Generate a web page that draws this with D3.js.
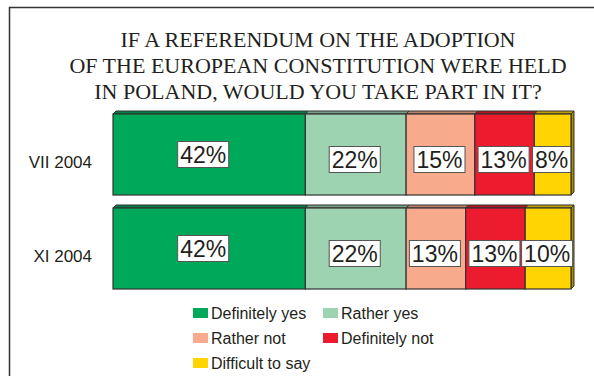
<!DOCTYPE html>
<html>
<head>
<meta charset="utf-8">
<script src="https://cdn.jsdelivr.net/npm/d3@7"></script>
<style>
  body { margin: 0; background: #fff; }
  svg { display: block; }
</style>
</head>
<body>
<div id="chart"></div>
<script>
var categories = ["VII 2004", "XI 2004"];
var seriesNames = ["Definitely yes", "Rather yes", "Rather not", "Definitely not", "Difficult to say"];
var values = [
  [42, 22, 15, 13, 8],
  [42, 22, 13, 13, 10]
];
var titleLines = [
  "IF A REFERENDUM ON THE ADOPTION",
  "OF THE EUROPEAN CONSTITUTION WERE HELD",
  "IN POLAND, WOULD YOU TAKE PART IN IT?"
];

var colors = ["#00a859", "#9dd3b0", "#f8aa8d", "#ec1c2e", "#ffd400"];
var W = 594, H = 376, depth = 3;

var svg = d3.select("#chart").append("svg").attr("width", W).attr("height", H);

// frame
svg.append("rect").attr("x", 9.5).attr("y", 7.5).attr("width", 620).attr("height", 400)
  .attr("fill", "none").attr("stroke", "#333").attr("stroke-width", 1.5);

// title
svg.append("g").selectAll("text").data(titleLines).enter().append("text")
  .attr("x", 318).attr("y", function(d, i) { return 47 + i * 26; })
  .attr("text-anchor", "middle")
  .style("font-family", "'Liberation Serif', 'Times New Roman', serif")
  .style("font-size", "22px").attr("fill", "#231f20")
  .text(function(d) { return d; });

var x = d3.scaleLinear().domain([0, 100]).range([113, 571]);
var y = d3.scaleBand().domain(categories).range([114, 289]).paddingInner(0.138).paddingOuter(0);

// stacked rows
var rows = categories.map(function(c, i) {
  var acc = 0;
  return values[i].map(function(v, k) {
    var s = { cat: c, k: k, v: v, x0: acc, x1: acc + v };
    acc += v;
    return s;
  });
});

var g = svg.append("g");
rows.forEach(function(row) {
  var bg = g.append("g");
  var top = y(row[0].cat), bh = y.bandwidth();
  // top faces
  bg.selectAll("path.top").data(row).enter().append("path")
    .attr("d", function(d) {
      var a = x(d.x0), b = x(d.x1);
      return "M" + a + "," + top + "L" + (a + depth) + "," + (top - depth) +
        "L" + (b + depth) + "," + (top - depth) + "L" + b + "," + top + "Z";
    })
    .attr("fill", function(d) { return d3.color(colors[d.k]).darker(0.8); })
    .attr("stroke", "#333").attr("stroke-width", 1);
  // side face of last segment
  var last = row[row.length - 1];
  var r = x(last.x1);
  bg.append("path")
    .attr("d", "M" + r + "," + top + "L" + (r + depth) + "," + (top - depth) +
      "L" + (r + depth) + "," + (top + bh - depth) + "L" + r + "," + (top + bh) + "Z")
    .attr("fill", d3.color(colors[last.k]).darker(1.2))
    .attr("stroke", "#333").attr("stroke-width", 1);
  // fronts
  bg.selectAll("rect").data(row).enter().append("rect")
    .attr("x", function(d) { return x(d.x0); })
    .attr("y", top)
    .attr("width", function(d) { return x(d.x1) - x(d.x0); })
    .attr("height", bh)
    .attr("fill", function(d) { return colors[d.k]; })
    .attr("stroke", "#333").attr("stroke-width", 1.2);
  // labels
  var lg = bg.selectAll("g.lab").data(row).enter().append("g")
    .attr("transform", function(d) {
      var cx = (x(d.x0) + x(d.x1)) / 2 + (d.k === 0 ? -6 : -1);
      var cy = top + bh / 2 + (d.k === 0 ? 0 : 5);
      return "translate(" + cx + "," + cy + ")";
    });
  lg.append("text")
    .attr("text-anchor", "middle").attr("dy", "0.36em")
    .style("font-family", "'Liberation Sans', Arial, sans-serif")
    .style("font-size", "23px").attr("fill", "#231f20")
    .text(function(d) { return d.v + "%"; })
    .each(function() {
      var bb = this.getBBox();
      d3.select(this.parentNode).insert("rect", "text")
        .attr("x", bb.x - 2.5).attr("y", -13)
        .attr("width", bb.width + 5).attr("height", 26)
        .attr("fill", "#fff").attr("stroke", "#555").attr("stroke-width", 1);
    });
});

// category labels
svg.append("g").selectAll("text").data(categories).enter().append("text")
  .attr("x", 92).attr("y", function(d) { return y(d) + y.bandwidth() / 2 + 8; })
  .attr("text-anchor", "end").attr("dy", "0.35em")
  .style("font-family", "'Liberation Sans', Arial, sans-serif")
  .style("font-size", "17px").attr("fill", "#231f20")
  .text(function(d) { return d; });

// legend
var legendPos = [[193, 313], [323, 313], [193, 338], [323, 338], [193, 363]];
var leg = svg.append("g").selectAll("g").data(seriesNames).enter().append("g")
  .attr("transform", function(d, i) { return "translate(" + legendPos[i][0] + "," + legendPos[i][1] + ")"; });
leg.append("rect").attr("x", 0).attr("y", -5).attr("width", 15).attr("height", 10)
  .attr("fill", function(d, i) { return colors[i]; });
leg.append("text").attr("x", 18).attr("dy", "0.36em")
  .style("font-family", "'Liberation Sans', Arial, sans-serif")
  .style("font-size", "16px").attr("fill", "#231f20")
  .text(function(d) { return d; });
</script>
</body>
</html>
